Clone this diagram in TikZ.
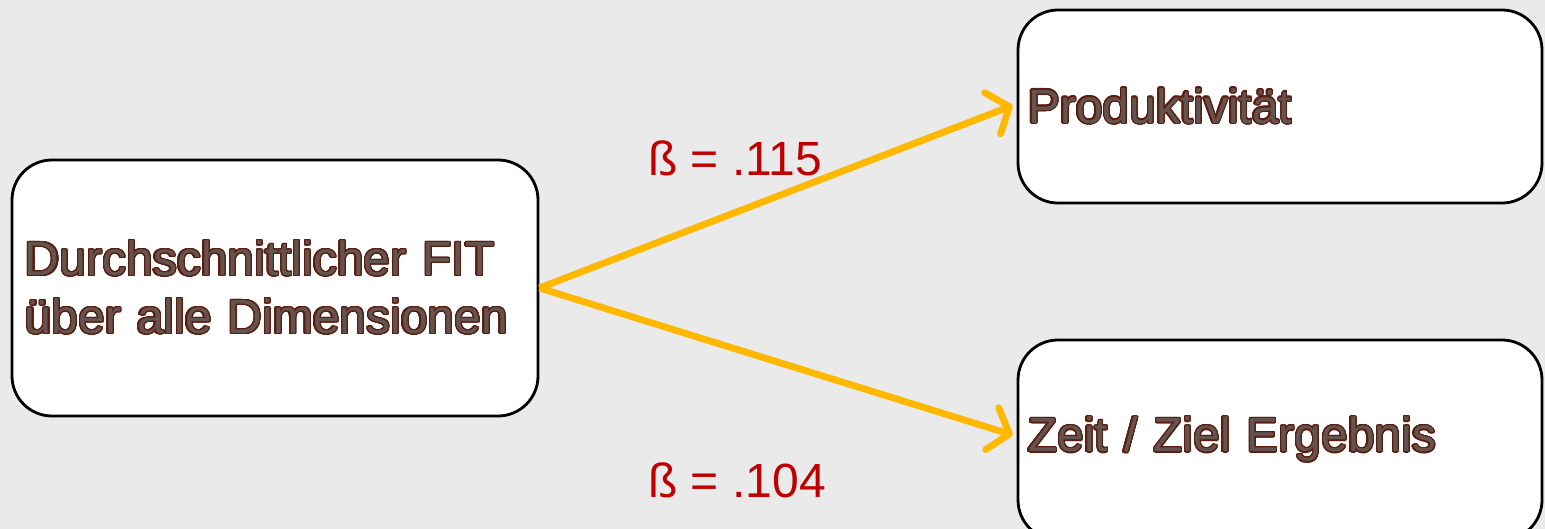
\documentclass[tikz,border=0pt]{standalone}
\usepackage{fontspec}
\setmainfont{Liberation Sans}
\usepackage{contour}
\usetikzlibrary{arrows.meta, positioning}
\definecolor{bgcol}{RGB}{234,234,234}
\definecolor{txtbrown}{RGB}{92,28,14}
\definecolor{txtfill}{RGB}{100,84,80}
\definecolor{arrcol}{RGB}{255,184,0}
\definecolor{betared}{RGB}{192,0,0}
\contourlength{0.6pt}
\contournumber{24}
\newcommand{\otext}[1]{\contour{txtbrown}{\textcolor{txtfill}{#1}}}

\begin{document}
\begin{tikzpicture}[x=0.5pt, y=-0.5pt,
  box/.style={draw, line width=1.4pt, fill=white, rounded corners=20pt, align=left, font=\fontsize{24}{29}\selectfont},
  link/.style={arrcol, line width=3.4pt, -{Straight Barb[length=9pt, width=22pt, line cap=round, line join=round]}},
  beta/.style={betared, font=\fontsize{24}{29}\selectfont}]
  \useasboundingbox[fill=bgcol] (0,0) rectangle (1545,529);
  \begin{scope}
  \clip (0,0) rectangle (1545,529);
  \node[box, minimum width=263pt, minimum height=128pt, text width=250pt, inner xsep=6.5pt] (fit) at (275,288)
    {\otext{Durchschnittlicher FIT}\\\otext{über alle Dimensionen}};
  \node[box, minimum width=262pt, minimum height=96.5pt, text width=252pt, inner xsep=5pt] (prod) at (1280,106.5)
    {\otext{Produktivität}};
  \node[box, minimum width=262pt, minimum height=100pt, text width=252pt, inner xsep=5pt] (zeit) at (1280,440)
    {\otext{Zeit / Ziel Ergebnis}};
  \end{scope}
  \draw[link] (fit.east) -- ([xshift=-2pt, yshift=0.5pt]prod.west);
  \draw[link] (fit.east) -- ([xshift=-2pt, yshift=2.5pt]zeit.west);
  \node[beta] (b1) at (735,158) {ß = .115};
  \node[beta] (b2) at (737,480) {ß = .104};
\end{tikzpicture}
\end{document}
